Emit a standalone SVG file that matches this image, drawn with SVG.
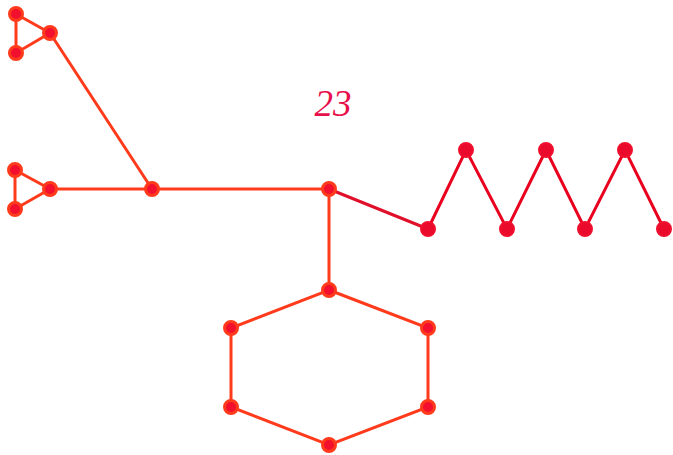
<svg xmlns="http://www.w3.org/2000/svg" width="673" height="455" viewBox="0 0 673 455">
  <style>
    .e { stroke: #ff3b1c; stroke-width: 3; fill: none; stroke-linecap: round; }
    .z { stroke: #e8001e; stroke-width: 3; fill: none; stroke-linecap: round; }
    .n circle { fill: #f2102e; stroke: #ff3b1c; stroke-width: 3; }
    .r circle { fill: #ea0a2c; stroke: #f0102e; stroke-width: 2; }
    .lbl { font-family: "Liberation Serif", serif; font-style: italic; font-size: 37px; fill: #e8104a; }
  </style>
  <rect width="673" height="455" fill="#ffffff"/>
  <g id="connectors">
    <path class="e" d="M16,14 L16,53 L50,33 Z"/>
    <path class="e" d="M15,170 L15,209 L50,189 Z"/>
    <line class="e" x1="50" y1="33" x2="152" y2="189"/>
    <line class="e" x1="50" y1="189" x2="329" y2="189"/>
    <line class="e" x1="329" y1="189" x2="329" y2="290"/>
    <path class="e" d="M329,290 L428,328 L428,407 L329,445 L231,407 L231,328 Z"/>
    <line stroke="#e0102a" stroke-width="3" x1="329" y1="189" x2="428" y2="229"/>
    <polyline class="z" points="428,229 466,150 507,229 546,150 585,229 625,150 664,229"/>
  </g>
  <g id="triangle-top" class="n">
    <circle cx="16" cy="14" r="6.5"/>
    <circle cx="16" cy="53" r="6.5"/>
    <circle cx="50" cy="33" r="6.5"/>
  </g>
  <g id="triangle-bottom" class="n">
    <circle cx="15" cy="170" r="6.5"/>
    <circle cx="15" cy="209" r="6.5"/>
    <circle cx="50" cy="189" r="6.5"/>
  </g>
  <g id="hub" class="n"><circle cx="152" cy="189" r="6.5"/></g>
  <g id="center" class="n"><circle cx="329" cy="189" r="6.5"/></g>
  <g id="hexagon" class="n">
    <circle cx="329" cy="290" r="6.5"/>
    <circle cx="428" cy="328" r="6.5"/>
    <circle cx="428" cy="407" r="6.5"/>
    <circle cx="329" cy="445" r="6.5"/>
    <circle cx="231" cy="407" r="6.5"/>
    <circle cx="231" cy="328" r="6.5"/>
  </g>
  <g id="zigzag" class="r">
    <circle cx="428" cy="229" r="7"/>
    <circle cx="466" cy="150" r="7"/>
    <circle cx="507" cy="229" r="7"/>
    <circle cx="546" cy="150" r="7"/>
    <circle cx="585" cy="229" r="7"/>
    <circle cx="625" cy="150" r="7"/>
    <circle cx="664" cy="229" r="7"/>
  </g>
  <text class="lbl" x="333" y="116" text-anchor="middle">23</text>
</svg>
